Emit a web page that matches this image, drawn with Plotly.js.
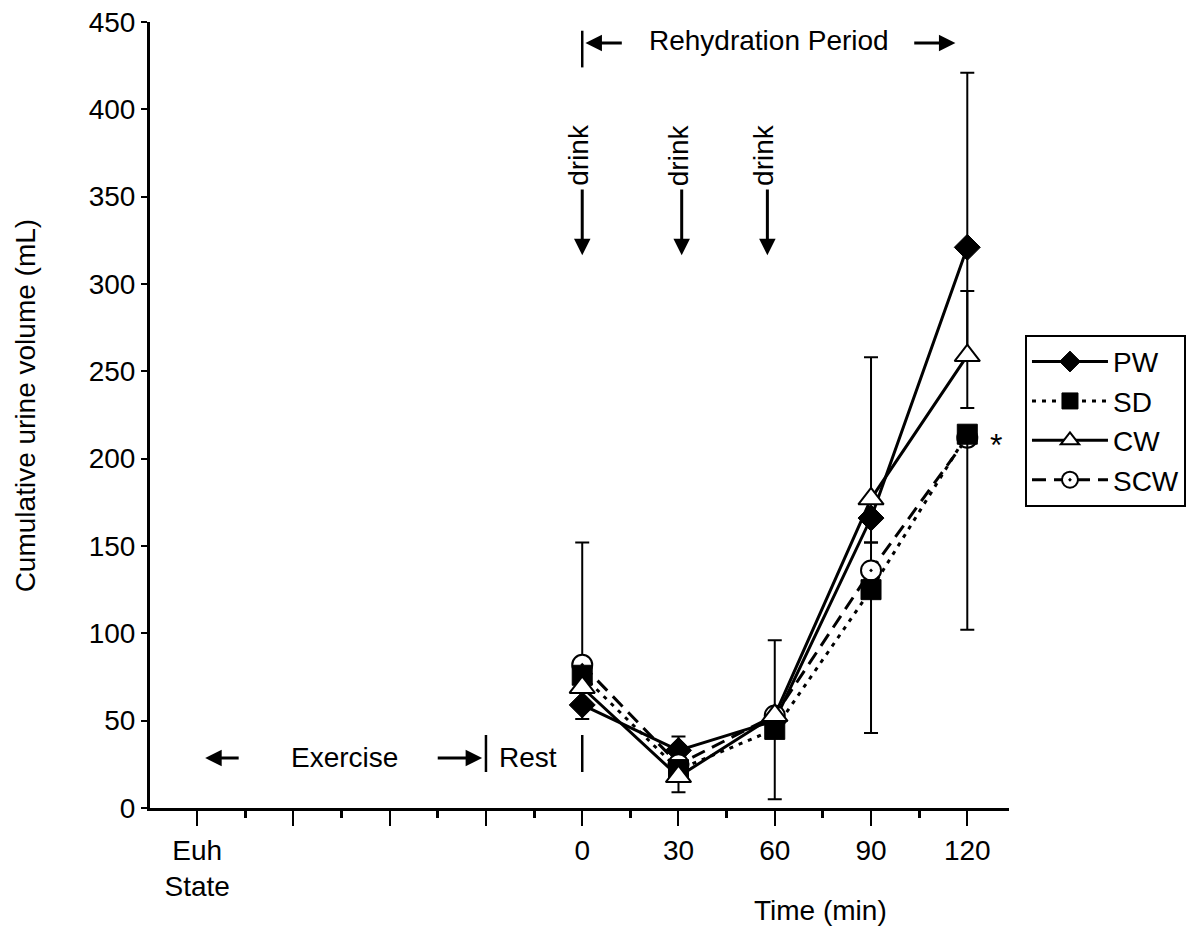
<!DOCTYPE html>
<html>
<head>
<meta charset="utf-8">
<script src="https://cdn.plot.ly/plotly-3.0.1.min.js"></script>
<style>html,body{margin:0;padding:0;background:#fff;}#chart{width:1199px;height:929px;}</style>
</head>
<body>
<div id="chart"></div>
<script>
// ---- data ----
const timePts = [0, 30, 60, 90, 120];
const seriesNames = ['PW', 'SD', 'CW', 'SCW'];
const pwVals  = [59, 33, 50, 166, 321];
const sdVals  = [76, 22, 45, 125, 214];
const cwVals  = [69, 18, 53, 177, 259];
const scwVals = [82, 25, 53, 136, 212];
// one-sided SD bars as drawn (NaN = not drawn)
const pwErrPlus   = [NaN, 8, NaN, NaN, 100];
const pwErrMinus  = [8, NaN, NaN, 14, 92];
const sdErrPlus   = [NaN, NaN, NaN, NaN, NaN];
const sdErrMinus  = [NaN, NaN, 40, 82, 112];
const cwErrPlus   = [NaN, NaN, 43, 81, 37];
const cwErrMinus  = [NaN, 9, NaN, NaN, NaN];
const scwErrPlus  = [70, NaN, NaN, 16, NaN];
const scwErrMinus = [NaN, NaN, NaN, NaN, NaN];

const xTickVals = [-120, -90, -60, -30, 0, 30, 60, 90, 120];
const xTickText = ['Euh<br>State', '', '', '', '0', '30', '60', '90', '120'];
const xMinorVals = [-105, -75, -45, -15, 15, 45, 75, 105];
const yTickVals = [0, 50, 100, 150, 200, 250, 300, 350, 400, 450];

const drinkTimes = [0, 31, 57.7];

// ---- styling ----
const FONT = 'Liberation Sans, Arial, sans-serif';
const FS = 28;

function errY(plus, minus) {
  return {type: 'data', symmetric: false, array: plus, arrayminus: minus,
          color: '#000', thickness: 2, width: 7, visible: true};
}

const traces = [
  {name: seriesNames[0], x: timePts, y: pwVals, type: 'scatter', mode: 'lines+markers', legendrank: 1, legendgroup: 'a',
   line: {color: '#000', width: 3, dash: 'solid'},
   marker: {symbol: 'diamond', size: 20, color: '#000', line: {color: '#000', width: 1}},
   error_y: errY(pwErrPlus, pwErrMinus)},
  {name: seriesNames[3], x: timePts, y: scwVals, type: 'scatter', mode: 'lines+markers', legendrank: 4, legendgroup: 'd',
   line: {color: '#000', width: 3, dash: '14px,8px'},
   marker: {symbol: 'circle-dot', size: 20, color: '#fff', line: {color: '#000', width: 2}},
   error_y: errY(scwErrPlus, scwErrMinus)},
  {name: seriesNames[1], x: timePts, y: sdVals, type: 'scatter', mode: 'lines+markers', legendrank: 2, legendgroup: 'b',
   line: {color: '#000', width: 3, dash: '4px,6px'},
   marker: {symbol: 'square', size: 20, color: '#000', line: {color: '#000', width: 1}},
   error_y: errY(sdErrPlus, sdErrMinus)},
  {name: seriesNames[2], x: timePts, y: cwVals, type: 'scatter', mode: 'lines+markers', legendrank: 3, legendgroup: 'c',
   line: {color: '#000', width: 3, dash: 'solid'},
   marker: {symbol: 'triangle-up', size: 22, color: '#fff', line: {color: '#000', width: 2}},
   error_y: errY(cwErrPlus, cwErrMinus)}
];

const txt = (s, x, y, extra) => Object.assign({text: s, x: x, y: y, xref: 'x', yref: 'y', showarrow: false,
  font: {family: FONT, size: FS, color: '#000'}}, extra || {});
const arrow = (x, y, ax, ay) => ({text: '', x: x, y: y, ax: ax, ay: ay, xref: 'x', yref: 'y', axref: 'x', ayref: 'y',
  showarrow: true, arrowhead: 2, arrowsize: 1.1, arrowwidth: 3, arrowcolor: '#000'});

const annotations = [
  txt('Rehydration Period', 58.3, 439.5),
  arrow(1, 438, 12.8, 438),
  arrow(116.3, 438, 103, 438),
  txt('Exercise', -74, 29),
  arrow(-117.5, 28.6, -106.6, 28.6),
  arrow(-31.2, 28.6, -45.5, 28.6),
  txt('Rest', -16.8, 29),
  txt('*', 128.9, 208, {font: {family: FONT, size: 32, color: '#000'}}),
  {text: 'Cumulative urine volume (mL)', xref: 'paper', yref: 'paper', x: 0, y: 0.511, xshift: -125,
   xanchor: 'center', yanchor: 'middle', textangle: -90, showarrow: false, font: {family: FONT, size: FS, color: '#000'}},
  {text: 'Time (min)', xref: 'x', yref: 'paper', x: 74.2, y: -0.13, xanchor: 'center', yanchor: 'middle',
   showarrow: false, font: {family: FONT, size: FS, color: '#000'}}
];
drinkTimes.forEach(t => {
  annotations.push(txt('drink', t - 1, 374, {textangle: -90}));
  annotations.push(arrow(t, 316.5, t, 355));
});

const shapes = [
  {type: 'line', xref: 'x', yref: 'y', x0: 0, x1: 0, y0: 424, y1: 445, line: {color: '#000', width: 2.5}},
  {type: 'line', xref: 'x', yref: 'y', x0: -30, x1: -30, y0: 20.6, y1: 41.8, line: {color: '#000', width: 2.5}},
  {type: 'line', xref: 'x', yref: 'y', x0: 0, x1: 0, y0: 20.6, y1: 41.8, line: {color: '#000', width: 2.5}}
];

const layout = {
  width: 1199, height: 929,
  margin: {l: 150, r: 190, t: 22, b: 121, autoexpand: false},
  paper_bgcolor: '#fff', plot_bgcolor: '#fff',
  font: {family: FONT, size: FS, color: '#000'},
  showlegend: true,
  legend: {x: 1.0186, y: 0.602, xanchor: 'left', yanchor: 'top', bgcolor: '#fff',
           bordercolor: '#000', borderwidth: 2, font: {family: FONT, size: FS, color: '#000'},
           itemwidth: 76, tracegroupgap: 5, traceorder: 'normal'},
  xaxis: {range: [-134.7, 133], showgrid: false, zeroline: false, showline: true, linecolor: '#000', linewidth: 3,
          tickmode: 'array', tickvals: xTickVals, ticktext: xTickText, ticks: 'outside', ticklen: 15,
          tickwidth: 2, tickcolor: '#000', tickfont: {family: FONT, size: FS, color: '#000'},
          minor: {tickmode: 'array', tickvals: xMinorVals, ticks: 'outside', ticklen: 7, tickwidth: 3, tickcolor: '#000'}},
  yaxis: {range: [0, 450], showgrid: false, zeroline: false, showline: true, linecolor: '#000', linewidth: 3,
          tickmode: 'array', tickvals: yTickVals, ticks: 'outside', ticklen: 6, tickwidth: 2, tickcolor: '#000',
          tickfont: {family: FONT, size: FS, color: '#000'}},
  annotations: annotations,
  shapes: shapes
};

Plotly.newPlot('chart', traces, layout, {displayModeBar: false, staticPlot: true});
</script>
</body>
</html>
